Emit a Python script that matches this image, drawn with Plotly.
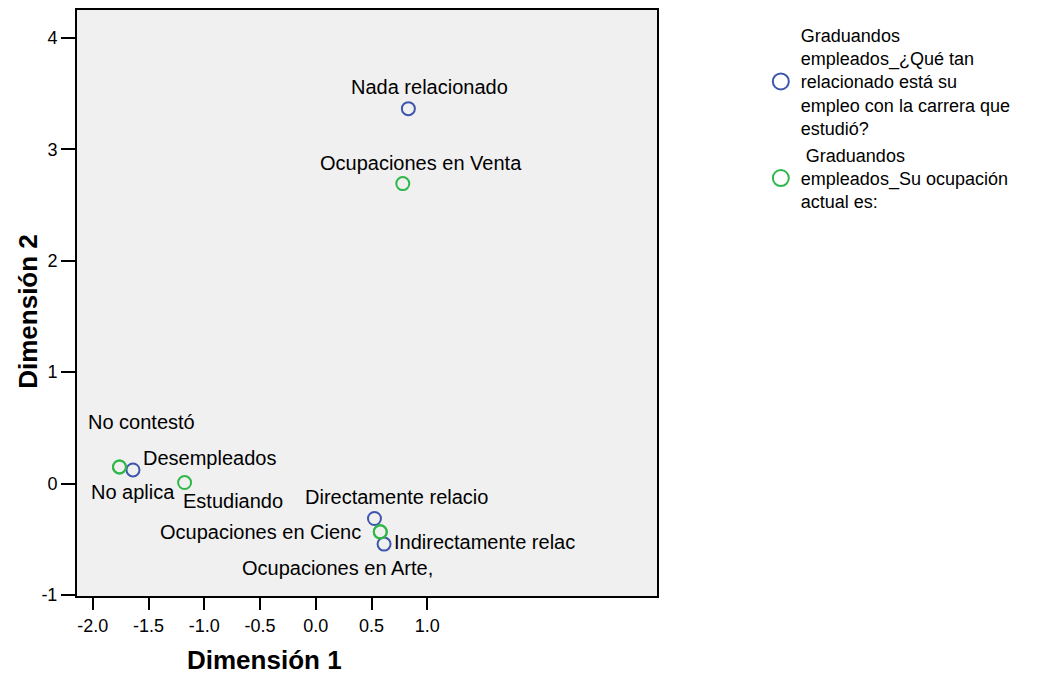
import plotly.graph_objects as go

# ---- data ----
rel_labels = ["Nada relacionado", "Directamente relacio", "Indirectamente relac", "No aplica"]
rel_dim1 = [0.83, 0.526, 0.612, -1.640]
rel_dim2 = [3.366, -0.314, -0.544, 0.122]

ocu_labels = ["Ocupaciones en Venta", "No contestó", "Desempleados", "Estudiando",
              "Ocupaciones en Cienc", "Ocupaciones en Arte,"]
ocu_dim1 = [0.78, -1.761, -1.761, -1.177, 0.578, 0.578]
ocu_dim2 = [2.693, 0.149, 0.149, 0.009, -0.434, -0.434]

x_ticks = [-2.0, -1.5, -1.0, -0.5, 0.0, 0.5, 1.0]
y_ticks = [-1, 0, 1, 2, 3, 4]

series_names = [
    "Graduandos<br>empleados_¿Qué tan<br>relacionado está su<br>empleo con la carrera que<br>estudió?",
    " Graduandos<br>empleados_Su ocupación<br>actual es:",
]

# ---- styling / label placement (pixel offsets of the label centre from its point) ----
label_offsets = {
    "Nada relacionado": (21, 22),
    "Directamente relacio": (22, 21),
    "Indirectamente relac": (100, 2),
    "No aplica": (0, -22),
    "Ocupaciones en Venta": (18, 21),
    "No contestó": (22, 45),
    "Desempleados": (90, 9),
    "Estudiando": (48, -18),
    "Ocupaciones en Cienc": (-120, 0),
    "Ocupaciones en Arte,": (-43, -36),
}
BLUE = "#3E56AC"
GREEN = "#2FB84A"
FONT = "Arial, Liberation Sans, sans-serif"
colors = [BLUE, GREEN]

fig = go.Figure()
for xs, ys, col in ((rel_dim1, rel_dim2, BLUE), (ocu_dim1, ocu_dim2, GREEN)):
    fig.add_trace(go.Scatter(
        x=xs, y=ys, mode="markers", showlegend=False, hoverinfo="x+y",
        marker=dict(symbol="circle-open", size=13, color=col, line=dict(width=2, color=col)),
    ))
# legend entries (larger symbols, as in the reference legend)
for name, col in zip(series_names, colors):
    fig.add_trace(go.Scatter(
        x=[None], y=[None], mode="markers", name=name, showlegend=True,
        marker=dict(symbol="circle-open", size=18, color=col, line=dict(width=2, color=col)),
    ))

annotations = []
for labels, xs, ys in ((rel_labels, rel_dim1, rel_dim2), (ocu_labels, ocu_dim1, ocu_dim2)):
    for lab, xv, yv in zip(labels, xs, ys):
        dx, dy = label_offsets[lab]
        annotations.append(dict(
            x=xv, y=yv, xref="x", yref="y", text=lab, showarrow=False,
            xshift=dx, yshift=dy, xanchor="center", yanchor="middle",
            font=dict(family=FONT, size=20, color="black"),
        ))

# axis titles
annotations.append(dict(
    x=0.323, y=0, xref="paper", yref="paper", text="<b>Dimensión 1</b>", showarrow=False,
    yshift=-64, xanchor="center", yanchor="middle",
    font=dict(family=FONT, size=26, color="black"),
))
annotations.append(dict(
    x=0, y=0.485, xref="paper", yref="paper", text="<b>Dimensión 2</b>", showarrow=False,
    xshift=-49, xanchor="center", yanchor="middle", textangle=-90,
    font=dict(family=FONT, size=26, color="black"),
))

fig.update_layout(
    width=1041, height=666,
    margin=dict(l=69, r=392, t=2, b=78, autoexpand=False),
    paper_bgcolor="white",
    plot_bgcolor="#F0F0F0",
    font=dict(family=FONT, color="black"),
    showlegend=True,
    legend=dict(
        x=1.179, y=0.989, xanchor="left", yanchor="top",
        font=dict(family=FONT, size=18, color="black"),
        bgcolor="rgba(0,0,0,0)", tracegroupgap=6,
    ),
    annotations=annotations,
)
fig.update_xaxes(
    range=[-2.142, 3.06], tickvals=x_ticks, ticktext=[f"{v:.1f}" for v in x_ticks],
    showgrid=False, zeroline=False, showline=True, linecolor="black", linewidth=2, mirror=True,
    ticks="outside", ticklen=12, tickwidth=2, tickcolor="black",
    tickfont=dict(family=FONT, size=18, color="black"),
)
fig.update_yaxes(
    range=[-1.01, 4.252], tickvals=y_ticks, ticktext=[str(v) for v in y_ticks],
    showgrid=False, zeroline=False, showline=True, linecolor="black", linewidth=2, mirror=True,
    ticks="outside", ticklen=14, tickwidth=2, tickcolor="black",
    tickfont=dict(family=FONT, size=18, color="black"),
)

fig.write_html("out.html")
